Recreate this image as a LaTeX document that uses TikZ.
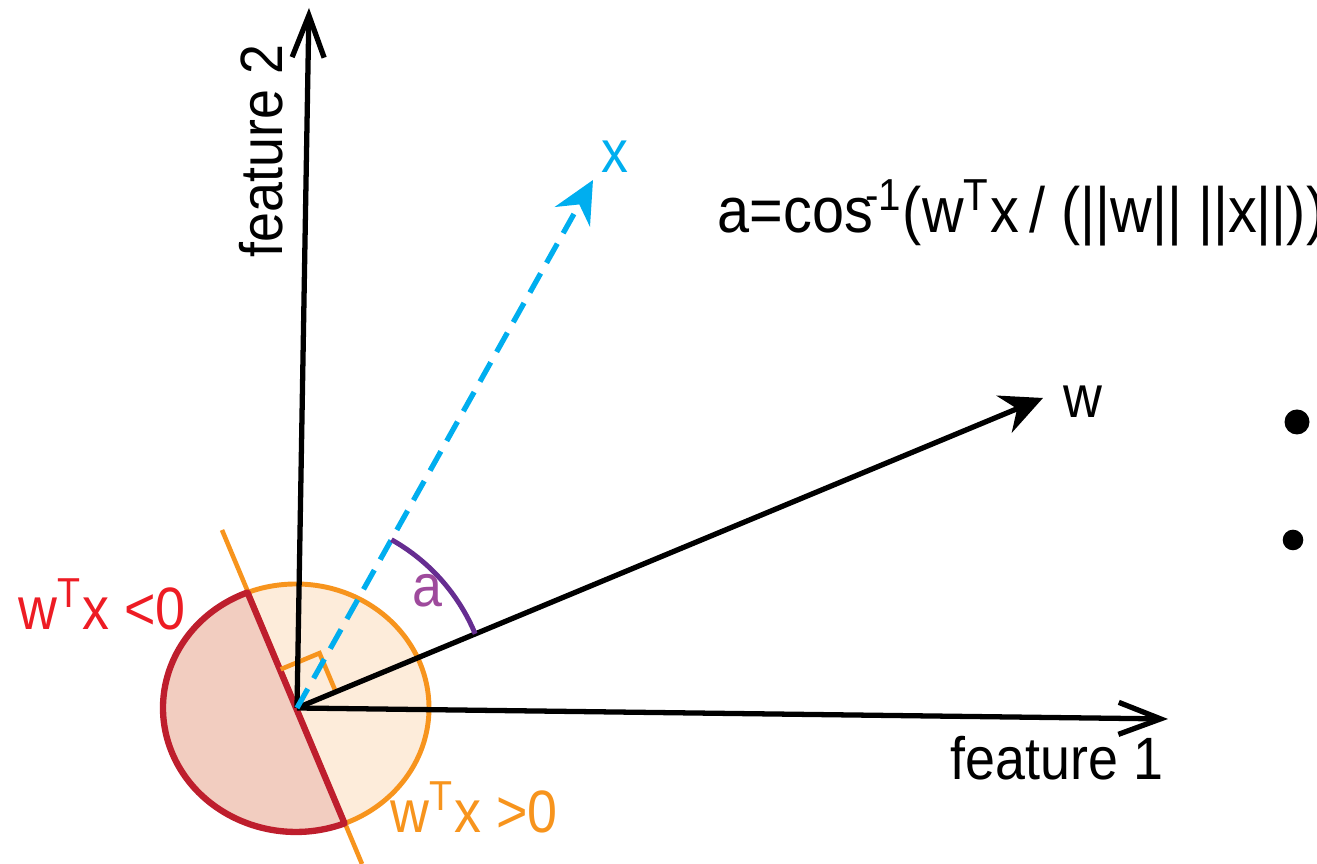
\documentclass[tikz,border=0pt]{standalone}
\usepackage{fontspec}
\setmainfont[FakeStretch=0.9]{Liberation Sans}
\usetikzlibrary{arrows.meta}
\definecolor{bndorange}{HTML}{F7941D}
\definecolor{posfill}{HTML}{FDECDA}
\definecolor{negred}{HTML}{BE1E2D}
\definecolor{negfill}{HTML}{F2CDC0}
\definecolor{negtext}{HTML}{ED1C24}
\definecolor{xcyan}{HTML}{00AEEF}
\definecolor{arcpurple}{HTML}{662D91}
\definecolor{anglabel}{HTML}{9E4A9C}
\begin{document}
\begin{tikzpicture}[x=0.01cm,y=0.01cm,
  axis/.style={line width=1.5pt,-{Straight Barb[length=0.42cm,width=0.32cm,line width=1.5pt]}},
  vec/.style={line width=1.5pt,-{Stealth[length=0.42cm,width=0.4cm,inset=0.14cm]}},
  lbl/.style={font=\fontsize{17}{20}\selectfont,inner sep=0pt}]
\useasboundingbox (0,0) rectangle (1317,864);
\coordinate (O) at (297,156);
\coordinate (f1tip) at (1168,145);
\coordinate (f2tip) at (309,856);
\coordinate (wtip) at (1043,466);
\coordinate (xtip) at (593,684);
\coordinate (btop) at (222,334);
\coordinate (bbot) at (362,0);
\coordinate (P1) at (247.5,271.5);
% positive side
\filldraw[fill=posfill,draw=bndorange,line width=1.4pt] (296,156) ellipse [x radius=133,y radius=124];
\draw[bndorange,line width=1.3pt] (btop) -- (bbot);
% negative side
\filldraw[fill=negfill,draw=negred,line width=1.8pt,line join=round]
  (P1) arc[start angle=111.4,end angle=291.4,x radius=133,y radius=124] -- cycle;
% right angle
\draw[bndorange,line width=1.3pt] (280.7,194.7) -- (319.5,210.8) -- (335.8,172.1);
% axes and vectors
\draw[axis] (O) -- (f1tip);
\draw[axis] (O) -- (f2tip);
\draw[vec] (O) -- (wtip);
\draw[vec,xcyan,dash pattern=on 0.22cm off 0.12cm] (O) -- (xtip);
\draw[arcpurple,line width=1.4pt] ([shift={(22.6:193)}]O) arc[start angle=22.6,end angle=60.7,radius=193];
% labels
\node[lbl,anchor=base west] (f1lbl) at (950,84) {feature 1};
\node[lbl,anchor=base west,rotate=90] (f2lbl) at (282,606) {feature 2};
\node[lbl] (wlbl) at (1083,462) {w};
\node[lbl,xcyan] (xlbl) at (615,707) {x};
\node[lbl,anglabel] (albl) at (427,273) {a};
\node[lbl,negtext,anchor=base west] (neglbl) at (18,234) {w\textsuperscript{T}x <0};
\node[lbl,bndorange,anchor=base west] (poslbl) at (390,31) {w\textsuperscript{T}x >0};
\node[lbl,font=\fontsize{18.2}{21}\selectfont,anchor=base west] (formula) at (717,631) {a=cos\kern-0.12em\textsuperscript{-1}(w\textsuperscript{T}x\,/ (||w|| ||x||))};
\fill (1297,442) circle (12.5);
\fill (1293,324) circle (10.3);
\end{tikzpicture}
\end{document}
